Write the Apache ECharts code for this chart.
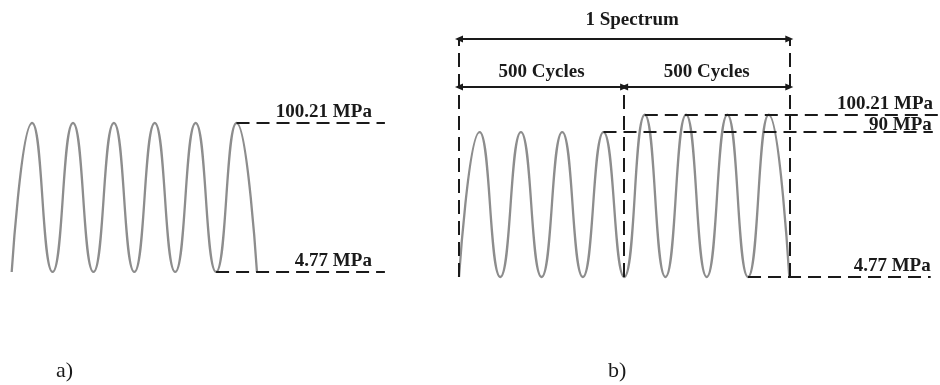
<!DOCTYPE html>
<html>
<head>
<meta charset="utf-8">
<script src="https://cdn.jsdelivr.net/npm/echarts@6/dist/echarts.min.js"></script>
<style>
  html, body { margin: 0; padding: 0; background: #ffffff; }
  #chart { width: 940px; height: 385px; }
</style>
</head>
<body>
<div id="chart"></div>
<script>
// Stress levels (MPa)
const minStress = 4.77;
const maxStress = 100.21;
const lowStress = 90;

// a) constant-amplitude loading: valley / peak stress at each half-cycle
const constantLoad = [4.77, 100.21, 4.77, 100.21, 4.77, 100.21, 4.77, 100.21, 4.77, 100.21, 4.77, 100.21, 4.77];

// b) two-block loading spectrum: low block (90 MPa peaks) then high block (100.21 MPa peaks)
const spectrumLoad = [4.77, 90, 4.77, 90, 4.77, 90, 4.77, 90, 4.77, 100.21, 4.77, 100.21, 4.77, 100.21, 4.77, 100.21, 4.77];

// block boundaries in half-cycle index
const blockEdges = [0, 8, 16];

const stressLabels = ['100.21 MPa', '90 MPa', '4.77 MPa'];
const spanLabels = ['1 Spectrum', '500 Cycles', '500 Cycles'];
const panelLabels = ['a)', 'b)'];

// heights (in panel b stress units) at which the span brackets are drawn
const spectrumRow = 144.8;
const cyclesRow = 116.5;

const INK = '#1a1a1a';
const WAVE = '#8d8d8d';
const SERIF = '"Liberation Serif", "Times New Roman", serif';

const dashed = { color: INK, width: 2, type: [13, 7] };
const vDashed = { color: INK, width: 2, type: [14, 7] };
const solid = { color: INK, width: 2, type: 'solid' };

function valueLabel(text, dx, dy) {
  return {
    show: true, formatter: text, position: 'insideEndTop',
    distance: [dx, dy],
    fontFamily: SERIF, fontWeight: 'bold', fontSize: 19, color: INK
  };
}
function spanLabel(text, dy, padLeft) {
  return {
    show: true, formatter: text, position: 'insideMiddleTop',
    distance: [0, dy], padding: [0, 0, 0, padLeft || 0],
    fontFamily: SERIF, fontWeight: 'bold', fontSize: 19, color: INK
  };
}
function hLine(x0, x1, y, label) {
  return [{ coord: [x0, y], lineStyle: dashed, label: label }, { coord: [x1, y] }];
}
function vLine(x, yTop) {
  return [{ coord: [x, minStress], lineStyle: vDashed, label: { show: false } }, { coord: [x, yTop] }];
}
function arrow(x0, x1, y, label) {
  return [
    { coord: [x0, y], lineStyle: solid, label: label, symbol: 'triangle', symbolSize: [7, 8] },
    { coord: [x1, y], symbol: 'triangle', symbolSize: [7, 8] }
  ];
}

const chart = echarts.init(document.getElementById('chart'), null, { renderer: 'canvas' });

chart.setOption({
  backgroundColor: '#ffffff',
  animation: false,
  title: [
    { text: panelLabels[0], left: 51, top: 355,
      textStyle: { fontFamily: SERIF, fontWeight: 'normal', fontSize: 22, color: INK } },
    { text: panelLabels[1], left: 603, top: 355,
      textStyle: { fontFamily: SERIF, fontWeight: 'normal', fontSize: 22, color: INK } }
  ],
  grid: [
    { left: 11.7, top: 107.7, width: 378.1, height: 171.7 },
    { left: 459, top: 13.1, width: 481, height: 272 }
  ],
  xAxis: [
    { type: 'value', gridIndex: 0, min: 0, max: 18.5, show: false },
    { type: 'value', gridIndex: 1, min: 0, max: 23.3, show: false }
  ],
  yAxis: [
    { type: 'value', gridIndex: 0, min: 0, max: 110, show: false },
    { type: 'value', gridIndex: 1, min: 0, max: 160, show: false }
  ],
  series: [
    {
      type: 'line', xAxisIndex: 0, yAxisIndex: 0,
      data: constantLoad.map((v, i) => [i, v]),
      smooth: 0.52, showSymbol: false, silent: true,
      lineStyle: { color: WAVE, width: 2.3 },
      markLine: {
        silent: true, animation: false, symbol: ['none', 'none'],
        data: [
          hLine(11, 18.26, maxStress, valueLabel(stressLabels[0], 13, 1)),
          hLine(10, 18.26, minStress, valueLabel(stressLabels[2], 13, 1))
        ]
      }
    },
    {
      type: 'line', xAxisIndex: 1, yAxisIndex: 1,
      data: spectrumLoad.map((v, i) => [i, v]),
      smooth: 0.52, showSymbol: false, silent: true,
      lineStyle: { color: WAVE, width: 2.3 },
      markLine: {
        silent: true, animation: false, symbol: ['none', 'none'],
        data: [
          hLine(9, 23.3, maxStress, valueLabel(stressLabels[0], 7, 1)),
          hLine(7, 22.95, lowStress, valueLabel(stressLabels[1], 1, -2)),
          hLine(14, 22.85, minStress, valueLabel(stressLabels[2], 0, 1)),
          vLine(blockEdges[0], spectrumRow),
          vLine(blockEdges[1], cyclesRow),
          vLine(blockEdges[2], spectrumRow),
          arrow(blockEdges[0], blockEdges[2], spectrumRow, spanLabel(spanLabels[0], 9, 16)),
          arrow(blockEdges[0], blockEdges[1], cyclesRow, spanLabel(spanLabels[1], 5, 0)),
          arrow(blockEdges[1], blockEdges[2], cyclesRow, spanLabel(spanLabels[2], 5, 0))
        ]
      }
    }
  ]
});
</script>
</body>
</html>
